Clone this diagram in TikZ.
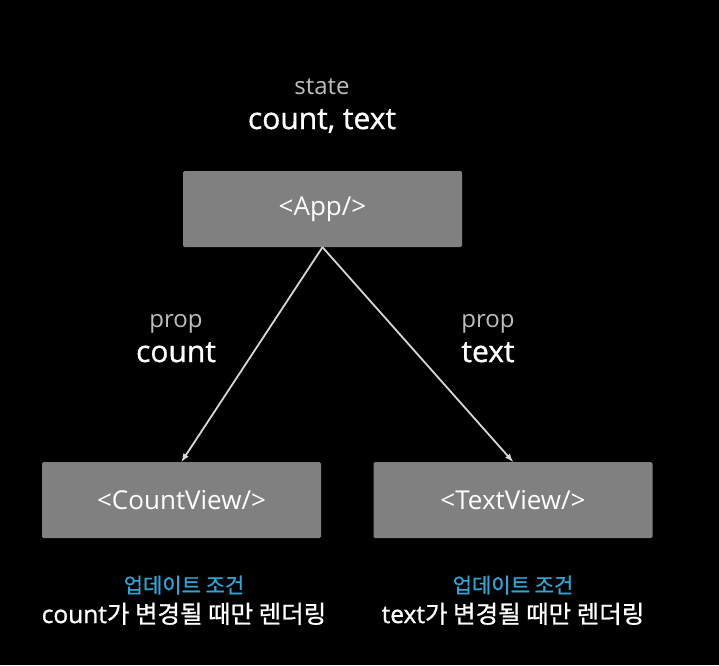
\documentclass[tikz,border=0pt]{standalone}
\usepackage{fontspec}
\setmainfont{Open Sans}
\newfontfamily\heavy{Open Sans}[FakeBold=1]
\newfontfamily\kr{Noto Sans CJK KR}[FakeBold=0.8]
\definecolor{boxgray}{HTML}{808080}
\definecolor{softgray}{HTML}{BDBDBD}
\definecolor{arrowgray}{HTML}{D6D6D6}
\definecolor{condblue}{HTML}{2EA6D6}
\begin{document}
\begin{tikzpicture}
    [
    x=1pt,y=-1pt,
    comp/.style={rectangle,fill=boxgray,rounded corners=1.5pt,minimum width=279pt,minimum height=76pt,inner sep=0pt,text=white,font=\fontsize{26}{30}\selectfont},
    small/.style={anchor=base,text=softgray,font=\fontsize{24}{28}\selectfont},
    big/.style={anchor=base,text=white,font=\heavy\fontsize{30}{34}\selectfont},
    cond/.style={anchor=base,text=condblue,font=\kr\fontsize{21}{25}\selectfont},
    note/.style={anchor=base,text=white,font=\heavy\fontsize{24.5}{28}\selectfont}
    ]
    \useasboundingbox [fill=black] (0,0) rectangle (719,665);
    \node (st) at (322,94) [small] {state};
    \node (stv) at (322,129) [big] {count, text};
    \node (app) at (322.5,209) [comp] {<App/>};
    \node (cview) at (181.5,500) [comp] {<CountView/>};
    \node (tview) at (513,500) [comp] {<TextView/>};
    \node (lp) at (176,327) [small] {prop};
    \node (lpv) at (176,362) [big] {count};
    \node (rp) at (488,327) [small] {prop};
    \node (rpv) at (488,362) [big] {text};
    \draw [-latex, arrowgray, line width=1.8pt] (app.south) to (cview.north);
    \draw [-latex, arrowgray, line width=1.8pt] (app.south) to (tview.north);
    \node (lc) at (184,593) [cond] {업데이트 조건};
    \node (ln) at (184,623) [note] {count{\kr 가 변경될 때만 렌더링}};
    \node (rc) at (513,593) [cond] {업데이트 조건};
    \node (rn) at (513,623) [note] {text{\kr 가 변경될 때만 렌더링}};
  \end{tikzpicture}
\end{document}
